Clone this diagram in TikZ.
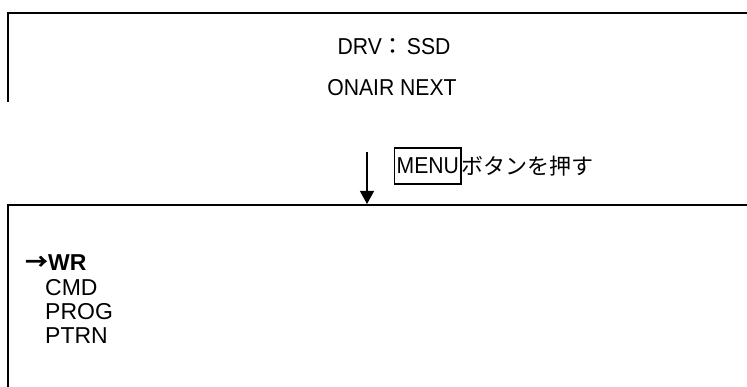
\documentclass[tikz,border=0pt]{standalone}
\usepackage{fontspec}
\setmainfont{Liberation Sans}
\newfontfamily\jp{Noto Sans CJK JP}
\newfontfamily\narrow[FakeStretch=0.92]{Liberation Sans}
\usetikzlibrary{arrows.meta}
\begin{document}
\begin{tikzpicture}[x=1pt,y=-1pt,
  frame/.style={line width=1.6pt, line cap=rect},
  toptext/.style={font=\narrow\fontsize{23}{23}\selectfont, inner sep=0pt, anchor=center},
  menutext/.style={font=\fontsize{23}{23}\selectfont, inner sep=0pt, anchor=west},
  flow/.style={line width=1.2pt, -{Triangle[width=14pt,length=13pt]}}]
\useasboundingbox (0,0) rectangle (747,387);
% top box (open)
\coordinate (t1) at (8,101);
\coordinate (t2) at (8,13);
\coordinate (t3) at (747,13);
\draw[frame] (t1) -- (t2) -- (t3);
\node[toptext] (drv) at (394,47) {DRV{\jp ：}\kern2pt SSD};
\node[toptext] (onair) at (392,88) {ONAIR NEXT};
% bottom box (open)
\coordinate (b1) at (8,387);
\coordinate (b2) at (8,205);
\coordinate (b3) at (747,205);
\draw[frame] (b1) -- (b2) -- (b3);
% arrow
\coordinate (a1) at (367,152);
\coordinate (a2) at (367,204);
\draw[flow] (a1) -- (a2);
\node[draw, line width=1.3pt, inner xsep=2pt, inner ysep=0pt, minimum height=36pt, anchor=west,
  font=\narrow\fontsize{23}{23}\selectfont] (menu) at (394,166) {MENU};
\node[anchor=west, inner sep=0pt, font=\jp\fontsize{22}{22}\selectfont] (push) at (menu.east) {ボタンを押す};
% menu items
\node[menutext, font=\bfseries\fontsize{23}{23}\selectfont] (wr) at (25,263) {{\jp\bfseries →}WR};
\node[menutext] (cmd) at (45,288) {CMD};
\node[menutext] (prog) at (45,312) {PROG};
\node[menutext] (ptrn) at (45,336) {PTRN};
\end{tikzpicture}
\end{document}
